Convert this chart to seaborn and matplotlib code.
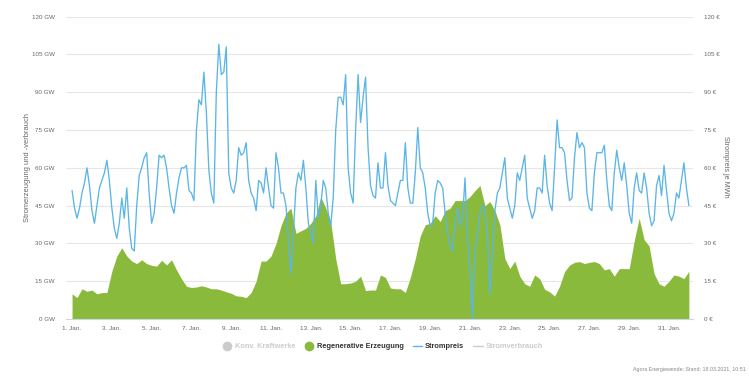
import numpy as np
import pandas as pd
import matplotlib.pyplot as plt
import seaborn as sns
from matplotlib.lines import Line2D

# data

# Strompreis in EUR/MWh, every 3 hours from 1 Jan 00:00 (8 values per day) + end point
price = [
    51, 44, 40, 44, 50, 54, 60, 53,
    43, 38, 45, 52, 55, 58, 63, 55,
    44, 36, 32, 38, 48, 40, 52, 36,
    28, 27, 45, 57, 60, 64, 66, 50,
    38, 42, 52, 65, 64, 65, 60, 52,
    45, 42, 50, 56, 60, 60, 61, 51,
    50, 47, 75, 87, 85, 98, 82, 59,
    50, 46, 90, 109, 97, 98, 108, 58,
    52, 50, 55, 68, 65, 66, 70, 55,
    50, 48, 43, 55, 54, 50, 60, 52,
    45, 44, 66, 60, 50, 50, 45, 31,
    18, 35, 52, 58, 55, 63, 52, 38,
    34, 30, 55, 40, 45, 55, 52, 42,
    37, 48, 75, 88, 88, 85, 97, 60,
    50, 46, 75, 97, 78, 88, 96, 68,
    53, 49, 48, 62, 52, 52, 66, 53,
    47, 46, 45, 50, 55, 55, 70, 52,
    46, 46, 58, 76, 60, 58, 52, 42,
    37, 38, 50, 55, 54, 52, 42, 34,
    29, 27, 38, 44, 37, 40, 56, 32,
    20, 0, 28, 33, 42, 45, 44, 33,
    10, 25, 43, 50, 52, 58, 64, 48,
    44, 40, 45, 58, 55, 60, 65, 48,
    44, 40, 43, 52, 52, 50, 65, 53,
    46, 43, 60, 79, 68, 68, 66, 55,
    47, 48, 64, 74, 68, 70, 68, 50,
    44, 43, 58, 66, 66, 66, 69, 55,
    45, 43, 58, 67, 60, 55, 62, 53,
    42, 38, 52, 58, 51, 50, 58, 52,
    42, 37, 39, 53, 57, 49, 61, 51,
    42, 39, 42, 50, 48, 55, 62, 52,
    45,
]

# Regenerative Erzeugung in GW, every 6 hours (4 values per day) + end point
renewables = [
    10, 8.5, 12, 11,
    11.5, 10, 10.5, 10.5,
    19, 25, 28.3, 25,
    23, 22, 23.5, 22,
    21.3, 21, 23.3, 21.5,
    23.5, 19.5, 16, 13,
    12.5, 12.7, 13.2, 12.7,
    12, 12, 11.5, 10.8,
    10.2, 9.2, 9, 8.5,
    10.5, 15, 23, 23,
    25, 30, 37, 42,
    44, 34, 35, 36,
    38, 41, 48.5, 44,
    38.5, 24, 14, 14,
    14.3, 15, 17, 11.3,
    11.5, 11.5, 17.5, 16.5,
    12.3, 12, 12, 10.5,
    16.5, 24, 33, 37.4,
    38, 41, 38.7, 43,
    44, 47, 47, 47,
    48.6, 51, 53, 45,
    46.6, 43, 37.4, 24,
    20, 23, 17, 14,
    13, 17.5, 16, 11.8,
    10.8, 9.1, 13, 18.8,
    21.4, 22.5, 22.8, 22,
    22.5, 22.8, 22, 19.5,
    20, 17, 20, 20,
    20, 31, 40, 31.5,
    29, 18, 14, 13,
    15, 17.5, 17, 16,
    19,
]

tick_days = list(range(0, 31, 2))
tick_labels = [f"{d + 1}. Jan." for d in tick_days]
y_ticks = [0, 15, 30, 45, 60, 75, 90, 105, 120]
left_labels = [f"{v} GW" for v in y_ticks]
right_labels = [f"{v} €" for v in y_ticks]

legend_names = ["Konv. Kraftwerke", "Regenerative Erzeugung", "Strompreis", "Stromverbrauch"]

df_price = pd.DataFrame({"day": np.arange(len(price)) * 3 / 24, "price": price})
df_ren = pd.DataFrame({"day": np.arange(len(renewables)) * 6 / 24, "gw": renewables})

green = "#8aba3c"
blue = "#5bb5e6"
grid_col = "#e6e6e6"
txt = "#666666"

sns.set_theme(style="white")
plt.rcParams["font.family"] = ["Liberation Sans", "DejaVu Sans"]

fig = plt.figure(figsize=(7.49, 3.77), dpi=100)
ax = fig.add_axes([0.0877, 0.1538, 0.8379, 0.802])

ax.fill_between(df_ren["day"], 0, df_ren["gw"], color=green, lw=0, zorder=2)
ax.set_xlim(-0.32, 31.22)
ax.set_ylim(0, 120)
ax.set_yticks(y_ticks)
ax.set_yticklabels(left_labels)
ax.set_xticks(tick_days)
ax.set_xticklabels(tick_labels)
ax.grid(axis="y", color=grid_col, lw=0.8, zorder=0)
ax.set_axisbelow(True)
for s in ["top", "left", "right"]:
    ax.spines[s].set_visible(False)
ax.spines["bottom"].set_color("#ccd6eb")
ax.spines["bottom"].set_linewidth(0.8)
ax.tick_params(axis="y", length=0, pad=8, labelsize=4.5, labelcolor=txt)
ax.tick_params(axis="x", length=3.5, width=0.8, color="#ccd6eb", pad=1.5, labelsize=4.6, labelcolor=txt)
ax.set_xlabel("")
ax.set_ylabel("")

ax2 = ax.twinx()
sns.lineplot(data=df_price, x="day", y="price", ax=ax2, color=blue, lw=0.95)
ax2.set_ylim(0, 120)
ax2.set_yticks(y_ticks)
ax2.set_yticklabels(right_labels)
ax2.tick_params(axis="y", length=0, pad=8, labelsize=4.5, labelcolor=txt)
for s in ["top", "left", "right", "bottom"]:
    ax2.spines[s].set_visible(False)
ax2.set_xlabel("")
ax2.set_ylabel("")

fig.text(28 / 749, 1 - 168 / 377, "Stromerzeugung und -verbrauch", rotation=90,
         ha="center", va="center", fontsize=5.4, color=txt)
fig.text(726 / 749, 1 - 167 / 377, "Strompreis je MWh", rotation=270,
         ha="center", va="center", fontsize=5.2, color=txt)

# legend
handles = [
    Line2D([], [], ls="", marker="o", ms=6, color="#cccccc"),
    Line2D([], [], ls="", marker="o", ms=6, color=green),
    Line2D([], [], color=blue, lw=1),
    Line2D([], [], color="#cccccc", lw=1),
]
leg = fig.legend(handles, legend_names, loc="center", bbox_to_anchor=(0.511, 0.08), ncol=4,
                 frameon=False, prop={"size": 5.3, "weight": "bold"}, handlelength=1.3,
                 handletextpad=0.4, columnspacing=1.2)
for t, c in zip(leg.get_texts(), ["#cccccc", "#333333", "#333333", "#cccccc"]):
    t.set_color(c)

fig.text(0.995, 0.02, "Agora Energiewende; Stand: 18.03.2021, 10:51", ha="right", va="center",
         fontsize=3.8, color="#888888")

plt.savefig("out.png", dpi=100)
